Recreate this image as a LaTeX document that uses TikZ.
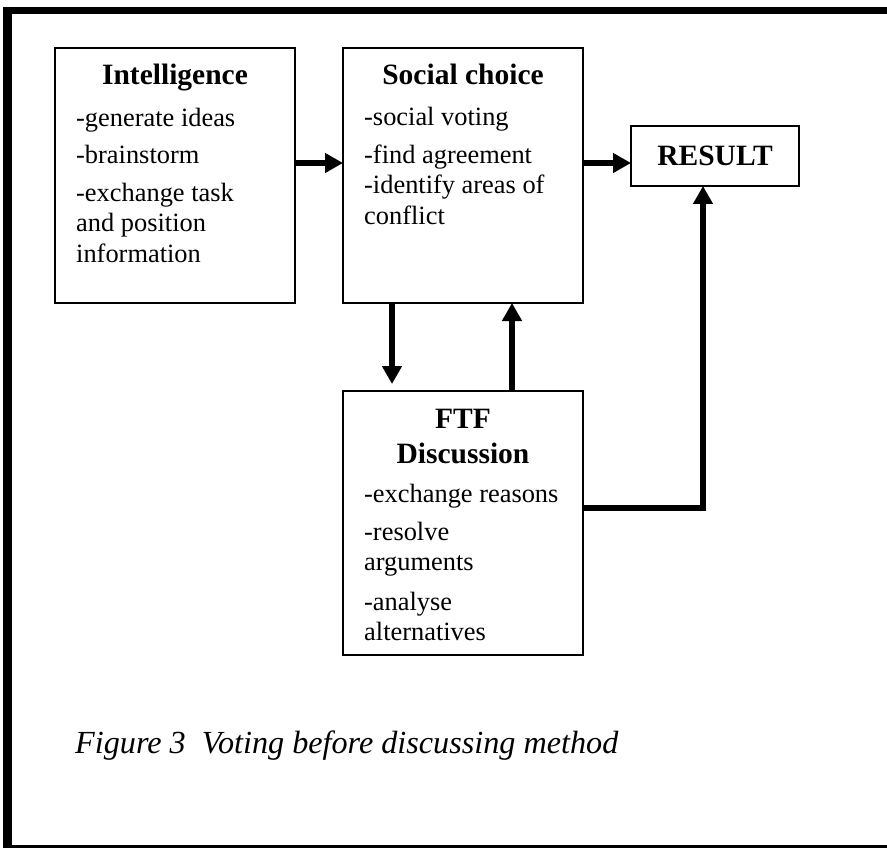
\documentclass[tikz,border=0pt]{standalone}
\usepackage{fontspec}
\setmainfont{Liberation Serif}
\usetikzlibrary{arrows.meta}
\begin{document}
\begin{tikzpicture}[x=1pt,y=-1pt,
  box/.style={draw=black,line width=2pt},
  bodytxt/.style={anchor=base west,inner sep=0pt,font=\fontsize{26.4}{30}\selectfont},
  headtxt/.style={anchor=base,inner sep=0pt,font=\fontsize{29.5}{35}\selectfont\bfseries},
  conn/.style={line width=5.5pt,-{Triangle[length=18pt,width=19pt]}}]
\useasboundingbox (0,0) rectangle (887,848);
% frame
\fill[black] (3,7) rectangle (887,14);
\fill[black] (3,7) rectangle (12,846);
\fill[black] (3,845) rectangle (887,847.5);
% boxes
\draw[box] (55,48) rectangle (295,303);
\coordinate (intE) at (295,163);
\draw[box] (343,48) rectangle (583,303);
\coordinate (socW) at (343,163);
\coordinate (socE) at (583,163);
\coordinate (socSa) at (392,303);
\coordinate (socSb) at (512,303);
\draw[box] (631,126) rectangle (799,186);
\coordinate (resW) at (631,163);
\coordinate (resS) at (703,186);
\draw[box] (343,391) rectangle (583,655);
\coordinate (ftfNa) at (392,384);
\coordinate (ftfNb) at (512,391);
\coordinate (ftfE) at (583,508);
\coordinate (bend) at (703,508);
% texts
\node[headtxt] (ih) at (175,85) {Intelligence};
\node[bodytxt] (i1) at (76,127) {-generate ideas};
\node[bodytxt] (i2) at (76,164) {-brainstorm};
\node[bodytxt] (i3) at (76,202) {-exchange task};
\node[bodytxt] (i4) at (76,232) {and position};
\node[bodytxt] (i5) at (76,262) {information};
\node[headtxt] (sh) at (463,85) {Social choice};
\node[bodytxt] (s1) at (364,126) {-social voting};
\node[bodytxt] (s2) at (364,164) {-find agreement};
\node[bodytxt] (s3) at (364,194) {-identify areas of};
\node[bodytxt] (s4) at (364,225) {conflict};
\node[headtxt] (rh) at (715,166) {RESULT};
\node[headtxt] (fh1) at (463,428) {FTF};
\node[headtxt] (fh2) at (463,463) {Discussion};
\node[bodytxt] (f1) at (364,502) {-exchange reasons};
\node[bodytxt] (f2) at (364,540) {-resolve};
\node[bodytxt] (f3) at (364,570) {arguments};
\node[bodytxt] (f4) at (364,610) {-analyse};
\node[bodytxt] (f5) at (364,640) {alternatives};
\node[anchor=base west,inner sep=0pt,font=\fontsize{32.2}{37}\selectfont\itshape] (cap) at (75,753) {Figure 3\ \ Voting before discussing method};
% connectors
\draw[conn] (intE) -- (socW);
\draw[conn] (socE) -- (resW);
\draw[conn] (socSa) -- (ftfNa);
\draw[conn] (ftfNb) -- (socSb);
\draw[conn] (ftfE) -- (bend) -- (resS);
\end{tikzpicture}
\end{document}
